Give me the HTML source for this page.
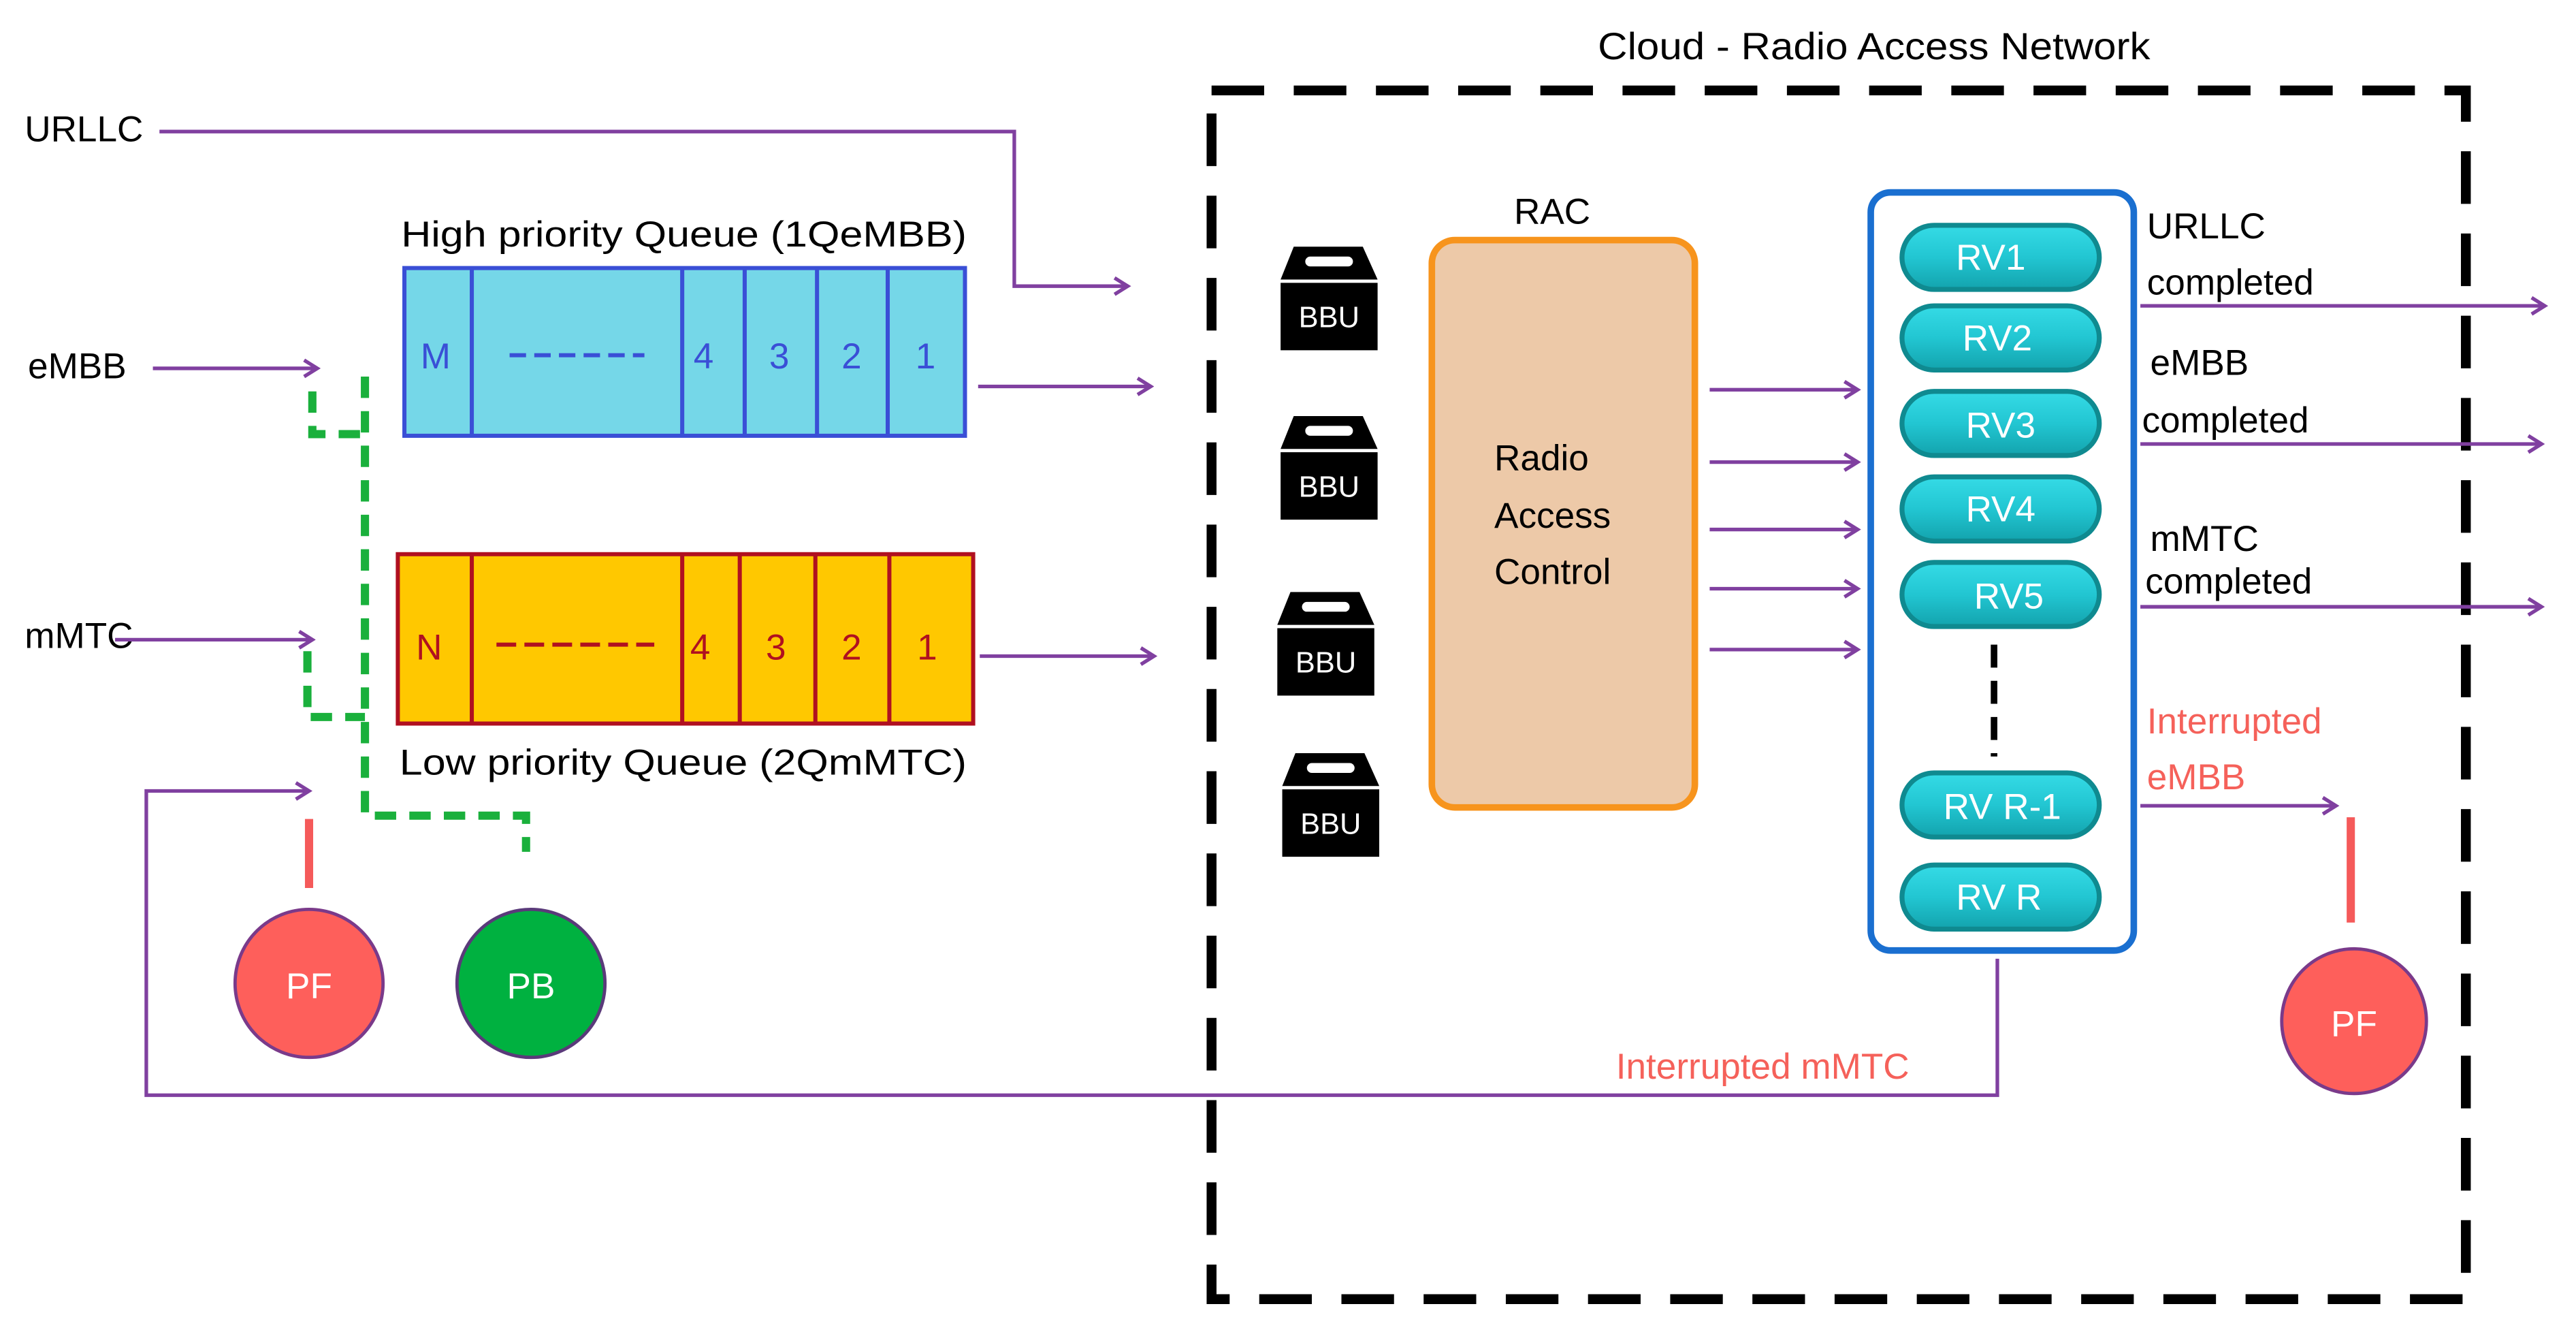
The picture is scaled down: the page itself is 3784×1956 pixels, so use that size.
<!DOCTYPE html>
<html><head><meta charset="utf-8"><style>
html,body{margin:0;padding:0;background:#fff;}
svg{display:block;}
text{font-family:"Liberation Sans",sans-serif;}
</style></head><body>
<svg width="3784" height="1956" viewBox="0 0 1567 810" preserveAspectRatio="none" xmlns="http://www.w3.org/2000/svg">
<defs>
<marker id="ar" markerWidth="12" markerHeight="12" refX="10" refY="6" orient="auto" markerUnits="userSpaceOnUse">
<path d="M2,1 L10,6 L2,11" fill="none" stroke="#8040a0" stroke-width="2.2"/>
</marker>
<linearGradient id="tg" x1="0" y1="0" x2="0" y2="1">
<stop offset="0" stop-color="#35dbe6"/><stop offset="0.5" stop-color="#22c6d2"/><stop offset="1" stop-color="#13a3ad"/>
</linearGradient>
<g id="bbu">
<path d="M8,0 H50 L59,20 H0 Z" fill="#000"/>
<rect x="15" y="6" width="29" height="6" rx="3" fill="#fff"/>
<rect x="0" y="22" width="59" height="41" fill="#000"/>
<text x="29.5" y="49" font-size="18" fill="#fff" text-anchor="middle">BBU</text>
</g>
</defs>

<text x="15" y="86" font-size="22" fill="#000">URLLC</text>
<polyline points="97,80 617,80 617,174 686,174" fill="none" stroke="#8040a0" stroke-width="2.2" marker-end="url(#ar)"/>

<text x="244" y="150" font-size="22" fill="#000" textLength="344" lengthAdjust="spacingAndGlyphs">High priority Queue (1QeMBB)</text>
<rect x="246" y="163" width="341" height="102" fill="#75d7e8" stroke="#3a4fd6" stroke-width="2.5"/>
<g stroke="#3a4fd6" stroke-width="2.5">
<line x1="287" y1="163" x2="287" y2="265"/><line x1="415" y1="163" x2="415" y2="265"/>
<line x1="453" y1="163" x2="453" y2="265"/><line x1="497" y1="163" x2="497" y2="265"/>
<line x1="540" y1="163" x2="540" y2="265"/>
</g>
<line x1="310" y1="216" x2="392" y2="216" stroke="#3a4fd6" stroke-width="2.5" stroke-dasharray="10,5"/>
<g font-size="22" fill="#3a4fd6" text-anchor="middle">
<text x="265" y="224">M</text><text x="428" y="224">4</text><text x="474" y="224">3</text><text x="518" y="224">2</text><text x="563" y="224">1</text>
</g>

<text x="17" y="230" font-size="22" fill="#000">eMBB</text>
<line x1="93" y1="224" x2="193" y2="224" stroke="#8040a0" stroke-width="2.2" marker-end="url(#ar)"/>
<line x1="595" y1="235" x2="700" y2="235" stroke="#8040a0" stroke-width="2.2" marker-end="url(#ar)"/>

<rect x="242" y="337" width="350" height="103" fill="#ffc800" stroke="#b01020" stroke-width="2.5"/>
<g stroke="#b01020" stroke-width="2.5">
<line x1="287" y1="337" x2="287" y2="440"/><line x1="415" y1="337" x2="415" y2="440"/>
<line x1="450" y1="337" x2="450" y2="440"/><line x1="496" y1="337" x2="496" y2="440"/>
<line x1="541" y1="337" x2="541" y2="440"/>
</g>
<line x1="302" y1="392" x2="398" y2="392" stroke="#b01020" stroke-width="2.5" stroke-dasharray="12,5"/>
<g font-size="22" fill="#b01020" text-anchor="middle">
<text x="261" y="401">N</text><text x="426" y="401">4</text><text x="472" y="401">3</text><text x="518" y="401">2</text><text x="564" y="401">1</text>
</g>
<text x="243" y="471" font-size="22" fill="#000" textLength="345" lengthAdjust="spacingAndGlyphs">Low priority Queue (2QmMTC)</text>

<text x="15" y="394" font-size="22" fill="#000">mMTC</text>
<line x1="70" y1="389" x2="190" y2="389" stroke="#8040a0" stroke-width="2.2" marker-end="url(#ar)"/>
<line x1="596" y1="399" x2="702" y2="399" stroke="#8040a0" stroke-width="2.2" marker-end="url(#ar)"/>

<g fill="none" stroke="#1ab03c" stroke-width="5" stroke-dasharray="13,8">
<polyline points="222,229 222,496 320,496 320,518"/>
<polyline points="190,238 190,264 222,264"/>
<polyline points="187,396 187,436 222,436"/>
</g>

<polyline points="1215,583 1215,666 89,666 89,481 188,481" fill="none" stroke="#8040a0" stroke-width="2.2" marker-end="url(#ar)"/>
<line x1="188" y1="498" x2="188" y2="540" stroke="#f55a5a" stroke-width="5"/>
<circle cx="188" cy="598" r="45" fill="#fe5f5b" stroke="#7a3a8a" stroke-width="2"/>
<text x="188" y="607" font-size="22" fill="#fff" text-anchor="middle">PF</text>
<circle cx="323" cy="598" r="45" fill="#00b140" stroke="#5a3a7a" stroke-width="2"/>
<text x="323" y="607" font-size="22" fill="#fff" text-anchor="middle">PB</text>

<text x="972" y="36" font-size="23" fill="#000" textLength="336" lengthAdjust="spacingAndGlyphs">Cloud - Radio Access Network</text>
<rect x="737" y="55" width="763" height="735" fill="none" stroke="#000" stroke-width="6" stroke-dasharray="32,18"/>

<use href="#bbu" x="779" y="150"/>
<use href="#bbu" x="779" y="253"/>
<use href="#bbu" x="777" y="360"/>
<use href="#bbu" x="780" y="458"/>

<text x="921" y="136" font-size="22" fill="#000">RAC</text>
<rect x="871" y="146" width="160" height="345" rx="14" fill="#edc9a8" stroke="#f7941d" stroke-width="4"/>
<g font-size="22" fill="#000">
<text x="909" y="286">Radio</text><text x="909" y="321">Access</text><text x="909" y="355">Control</text>
</g>

<g stroke="#8040a0" stroke-width="2.2" marker-end="url(#ar)">
<line x1="1040" y1="237" x2="1130" y2="237"/>
<line x1="1040" y1="281" x2="1130" y2="281"/>
<line x1="1040" y1="322" x2="1130" y2="322"/>
<line x1="1040" y1="358" x2="1130" y2="358"/>
<line x1="1040" y1="395" x2="1130" y2="395"/>
</g>

<rect x="1138" y="117" width="160" height="461" rx="12" fill="#fff" stroke="#1a6fd0" stroke-width="4"/>
<g stroke="#0f8a90" stroke-width="3" fill="url(#tg)">
<rect x="1157" y="137" width="120" height="39" rx="19.5"/>
<rect x="1157" y="186" width="120" height="39" rx="19.5"/>
<rect x="1157" y="238" width="120" height="39" rx="19.5"/>
<rect x="1157" y="290" width="120" height="39" rx="19.5"/>
<rect x="1157" y="342" width="120" height="39" rx="19.5"/>
<rect x="1157" y="470" width="120" height="39" rx="19.5"/>
<rect x="1157" y="526" width="120" height="39" rx="19.5"/>
</g>
<g font-size="22" fill="#fff" text-anchor="middle">
<text x="1211" y="164">RV1</text><text x="1215" y="213">RV2</text><text x="1217" y="266">RV3</text>
<text x="1217" y="317">RV4</text><text x="1222" y="370">RV5</text><text x="1218" y="498">RV R-1</text><text x="1216" y="553">RV R</text>
</g>
<line x1="1213" y1="392" x2="1213" y2="460" stroke="#000" stroke-width="4" stroke-dasharray="14,8"/>

<g font-size="22" fill="#000">
<text x="1306" y="145">URLLC</text><text x="1306" y="179">completed</text>
<text x="1308" y="228">eMBB</text><text x="1303" y="263">completed</text>
<text x="1308" y="335">mMTC</text><text x="1305" y="361">completed</text>
</g>
<g stroke="#8040a0" stroke-width="2.2" marker-end="url(#ar)">
<line x1="1302" y1="186" x2="1548" y2="186"/>
<line x1="1302" y1="270" x2="1546" y2="270"/>
<line x1="1302" y1="369" x2="1546" y2="369"/>
<line x1="1302" y1="490" x2="1421" y2="490"/>
</g>
<g font-size="22" fill="#f5615a">
<text x="1306" y="446">Interrupted</text><text x="1306" y="480">eMBB</text>
<text x="983" y="656">Interrupted mMTC</text>
</g>
<line x1="1430" y1="497" x2="1430" y2="561" stroke="#f55a5a" stroke-width="5"/>
<circle cx="1432" cy="621" r="44" fill="#fe5f5b" stroke="#7a3a8a" stroke-width="2"/>
<text x="1432" y="630" font-size="22" fill="#fff" text-anchor="middle">PF</text>
</svg>
</body></html>
